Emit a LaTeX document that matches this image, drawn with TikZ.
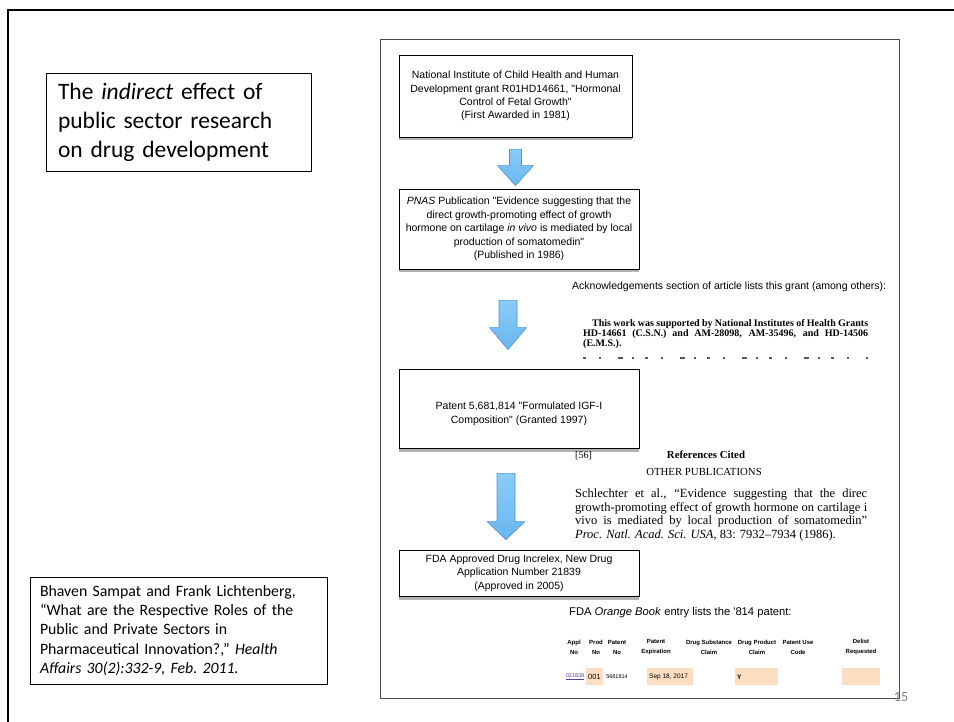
\documentclass[tikz,border=0pt]{standalone}
\usepackage{fontspec}
\usepackage{tikz}
\usetikzlibrary{calc,shadows}
\newfontfamily\calfont{Carlito}
\newfontfamily\arialfont{Liberation Sans}
\newfontfamily\timesfont{Liberation Serif}
\definecolor{arrowblue}{RGB}{104,182,238}
\definecolor{arrowlight}{RGB}{138,204,248}
\definecolor{arrowedge}{RGB}{78,148,214}
\definecolor{peach}{RGB}{253,222,194}
\definecolor{linkpurple}{RGB}{96,60,150}
\tikzstyle{stepbox}=[draw=black,line width=0.8pt,fill=white,drop shadow={shadow xshift=0pt,shadow yshift=-3.5pt,opacity=0.5,fill=black!60},align=center,inner sep=0pt,font=\arialfont\fontsize{10.5}{13.4}\selectfont]
\tikzstyle{textbox}=[draw=black,line width=0.8pt,align=left,inner ysep=0pt]
\tikzstyle{bluearrow}=[draw=arrowedge,line width=0.6pt,top color=arrowlight,bottom color=arrowblue,line join=round]
\tikzstyle{cell}=[fill=peach,inner sep=0pt,minimum height=17pt]
\tikzstyle{colhead}=[align=center,inner sep=0pt,font=\arialfont\bfseries\fontsize{6}{10}\selectfont]

\begin{document}
\begin{tikzpicture}[x=1pt,y=-1pt]
    \useasboundingbox (0,0) rectangle (954,722);
    % Slide frame
    \draw[line width=2.6pt] (954,10) -- (8,10) -- (8,722);

    % Title and source on the left
    \node[textbox,minimum width=265pt,minimum height=98pt,text width=241pt,inner xsep=12pt,font=\calfont\fontsize{23.5}{29}\selectfont] (title) at (178.5,122) {The \textit{indirect} effect of\\public sector research\\on drug development};
    \node[textbox,minimum width=297pt,minimum height=107pt,text width=277pt,inner xsep=10pt,font=\calfont\fontsize{15.8}{19.3}\selectfont] (source) at (178.5,630.5) {Bhaven Sampat and Frank Lichtenberg,\\“What are the Respective Roles of the\\Public and Private Sectors in\\Pharmaceutical Innovation?,” \textit{Health}\\\textit{Affairs 30(2):332-9, Feb.\ 2011.}};

    % The panel with the chain of boxes
    \node[draw=black!70,line width=1pt,minimum width=519pt,minimum height=658pt,inner sep=0pt] (panel) at (639.5,369) {};
    \node[stepbox,minimum width=233pt,minimum height=82pt] (grant) at (515.5,96) {National Institute of Child Health and Human\\Development grant R01HD14661, "Hormonal\\Control of Fetal Growth"\\(First Awarded in 1981)};
    \node[stepbox,minimum width=240pt,minimum height=80pt] (pnas) at (519,229) {\textit{PNAS} Publication "Evidence suggesting that the\\direct growth-promoting effect of growth\\hormone on cartilage \textit{in vivo} is mediated by local\\production of somatomedin"\\(Published in 1986)};
    \node[stepbox,minimum width=240pt,minimum height=79pt] (patent) at (519,408.5) {};
    \node[align=center,inner sep=0pt,font=\arialfont\fontsize{10.5}{14}\selectfont] (patenttext) at (519,414) {Patent 5,681,814 "Formulated IGF-I\\Composition" (Granted 1997)};
    \node[stepbox,minimum width=240pt,minimum height=46pt] (fda) at (519,573) {FDA Approved Drug Increlex, New Drug\\Application Number 21839\\(Approved in 2005)};

    % Block arrows between the boxes
    \foreach \src/\dst/\dx/\gapa/\gapb/\hl/\sw/\hw in {grant/pnas/0/12/3/20/6/18, pnas/patent/-11/31/19/22/9/18.5, patent/fda/-13/25/10/18/9/19}
    {
        \coordinate (out\src) at ($(\src.south)+(\dx,\gapa)$);
        \coordinate (in\dst) at ($(out\src |- \dst.north)+(0,-\gapb)$);
        \path[bluearrow] ($(out\src)+(-\sw,0)$) -- ($(out\src)+(\sw,0)$) -- ($(in\dst)+(\sw,-\hl)$) -- ($(in\dst)+(\hw,-\hl)$) -- (in\dst) -- ($(in\dst)+(-\hw,-\hl)$) -- ($(in\dst)+(-\sw,-\hl)$) -- cycle;
    }

    % Acknowledgements excerpt
    \node[anchor=base west,inner sep=0pt,font=\arialfont\fontsize{10.5}{12}\selectfont] (ackhead) at (572,289.5) {Acknowledgements section of article lists this grant (among others):};
    \node[anchor=base west,inner sep=0pt,font=\timesfont\bfseries\fontsize{10}{10}\selectfont] (ackline1) at (592,326.5) {\makebox[276pt][s]{This work was supported by National Institutes of Health Grants}};
    \node[anchor=base west,inner sep=0pt,font=\timesfont\bfseries\fontsize{10}{10}\selectfont] (ackline2) at (583,336.3) {\makebox[285pt][s]{HD-14661 (C.S.N.) and AM-28098, AM-35496, and HD-14506}};
    \node[anchor=base west,inner sep=0pt,font=\timesfont\bfseries\fontsize{10}{10}\selectfont] (ackline3) at (583,346) {(E.M.S.).};
    \draw[black!65,line width=1.3pt,dash pattern=on 3pt off 13pt on 2pt off 17pt on 5pt off 9pt on 2pt off 11pt] (583,358) -- (868,358);

    % References cited in the patent
    \node[anchor=base west,inner sep=0pt,font=\timesfont\fontsize{10}{11}\selectfont] (refnum) at (575,458.5) {[56]};
    \node[anchor=base,inner sep=0pt,font=\timesfont\bfseries\fontsize{10.8}{11}\selectfont] (refhead) at (706,458.5) {References Cited};
    \node[anchor=base,inner sep=0pt,font=\timesfont\fontsize{10.8}{11}\selectfont] (refsub) at (704,475.5) {OTHER PUBLICATIONS};
    \node[anchor=base west,inner sep=0pt,font=\timesfont\fontsize{12.5}{14}\selectfont] (refline1) at (575,497) {\makebox[292pt][s]{Schlechter et al., “Evidence suggesting that the direc}};
    \node[anchor=base west,inner sep=0pt,font=\timesfont\fontsize{12.5}{14}\selectfont] (refline2) at (575,511) {\makebox[292pt][s]{growth-promoting effect of growth hormone on cartilage i}};
    \node[anchor=base west,inner sep=0pt,font=\timesfont\fontsize{12.5}{14}\selectfont] (refline3) at (575,524.5) {\makebox[292pt][s]{vivo is mediated by local production of somatomedin”}};
    \node[anchor=base west,inner sep=0pt,font=\timesfont\fontsize{12.5}{14}\selectfont] (refline4) at (575,538) {\textit{Proc. Natl. Acad. Sci. USA}, 83: 7932–7934 (1986).};

    % Orange Book entry
    \node[anchor=base west,inner sep=0pt,font=\arialfont\fontsize{11.2}{12}\selectfont] (obhead) at (569,615.8) {FDA \textit{Orange Book} entry lists the '814 patent:};
    \foreach \cx/\hd in {574/Appl\\No, 596/Prod\\No, 617/Patent\\No, 656/Patent\\Expiration, 709/Drug Substance\\Claim, 757/Drug Product\\Claim, 798/Patent Use\\Code, 861/Delist\\Requested}
        \node[colhead] (head\cx) at (\cx,647) {\hd};
    \foreach \xa/\xb/\name in {586/603/prodcell, 647/693/expcell, 735/778/claimcell, 842/880/delistcell}
        \node[cell,minimum width=\xb-\xa] (\name) at ({(\xa+\xb)/2},676.5) {};
    \node[inner sep=0pt,text=linkpurple,font=\arialfont\fontsize{5.5}{6}\selectfont] (applno) at (575,677) {\underline{021839}};
    \node[inner sep=0pt,font=\arialfont\fontsize{7.5}{8}\selectfont] (prodno) at (prodcell) {001};
    \node[inner sep=0pt,font=\arialfont\fontsize{5.5}{6}\selectfont] (patno) at (617,677) {5681814};
    \node[anchor=west,inner sep=0pt,font=\arialfont\fontsize{6.5}{7}\selectfont] (expdate) at (649,677) {Sep 18, 2017};
    \node[anchor=west,inner sep=0pt,font=\arialfont\bfseries\fontsize{6.5}{7}\selectfont] (claimy) at (737,677) {Y};

    % Page number
    \node[inner sep=0pt,text=black!50,font=\calfont\fontsize{14}{14}\selectfont] (pagenum) at (901,697) {15};
\end{tikzpicture}
\end{document}
